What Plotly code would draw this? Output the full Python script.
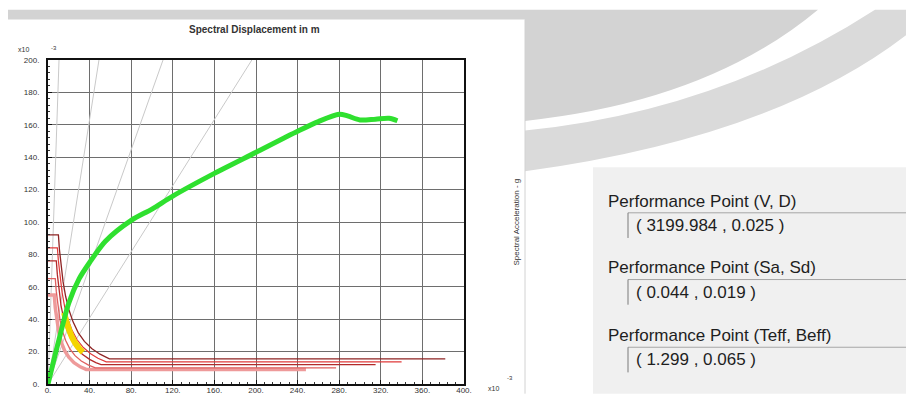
import plotly.graph_objects as go

# ---------------- data (units: x10^-3 m, x10^-3 g) ----------------
capacity_sd = [0, 10, 20, 30, 40, 55, 80, 100, 120, 160, 200, 240, 260, 280, 288, 300, 315, 328, 336]
capacity_sa = [0, 26, 50, 65, 75, 88, 101, 108, 116, 130, 143, 156, 162, 166.5, 165.5, 163, 163.5, 164, 162.5]

demand1_sd = [0, 10, 11, 12.5, 14.5, 17, 20, 24, 29, 35, 42, 50, 59, 382]
demand1_sa = [92, 92, 83, 73, 63, 54, 46, 38.5, 31.7, 26.3, 21.9, 18.4, 15.5, 15.5]
demand2_sd = [0, 9, 10, 11.5, 13.5, 16, 19, 23, 28, 34, 41, 48, 56, 340]
demand2_sa = [84, 84, 76, 66.5, 56.7, 47.8, 40.3, 33.3, 27.3, 22.5, 18.7, 15.9, 13.7, 13.7]
demand3_sd = [0, 8, 9, 10.5, 12.5, 15, 18, 22, 27, 33, 40, 46, 51, 315]
demand3_sa = [76, 76, 67.5, 58, 48.6, 40.5, 33.8, 27.6, 22.5, 18.4, 15.2, 13.2, 12, 12]
demand4_sd = [0, 7, 8, 9.5, 11.5, 14, 17, 21, 26, 32, 39, 45.5, 277]
demand4_sa = [65, 65, 57, 47.9, 39.6, 32.5, 26.8, 21.7, 17.5, 14.2, 11.7, 10, 10]
demand5_sd = [0, 6, 7, 8.5, 10.5, 13, 16, 20, 25, 31, 36.7, 248]
demand5_sa = [55, 55, 47, 38.8, 31.4, 25.4, 20.6, 16.5, 13.2, 10.6, 9, 9]

yellow_sd = [15.5, 17.5, 20, 23, 26.5, 30, 33.5]
yellow_sa = [44, 39, 34, 29, 25, 22, 19.5]

period_top_sd = [10.6, 49, 110.6, 196]   # radial period lines reach Sa = 200 here
period_top_sa = 200

x_ticks = [0, 40, 80, 120, 160, 200, 240, 280, 320, 360, 400]
x_tick_labels = ["0.", "40.", "80.", "120.", "160.", "200.", "240.", "280.", "320.", "360.", "400."]
y_ticks = [0, 20, 40, 60, 80, 100, 120, 140, 160, 180, 200]
y_tick_labels = ["0.", "20.", "40.", "60.", "80.", "100.", "120.", "140.", "160.", "180.", "200."]

panel_labels = ["Performance Point (V, D)", "Performance Point (Sa, Sd)", "Performance Point (Teff, Beff)"]
panel_values = ["( 3199.984 , 0.025 )", "( 0.044 , 0.019 )", "( 1.299 , 0.065 )"]

# ---------------- layout geometry (pixels) ----------------
W, H = 914, 397
L, R, T, B = 40, 456, 52, 387


def PX(px):
    return (px - L) / (R - L)


def PY(py):
    return (B - py) / (B - T)


fig = go.Figure()

for xt in period_top_sd:
    fig.add_trace(go.Scatter(x=[0, xt], y=[0, period_top_sa], mode="lines",
                             line=dict(color="#c9c9c9", width=1), hoverinfo="skip", showlegend=False))

demands = [
    (demand5_sd, demand5_sa, "#ee9a9a", 3.5),
    (demand4_sd, demand4_sa, "#e06060", 1.3),
    (demand3_sd, demand3_sa, "#b42a2a", 1.3),
    (demand2_sd, demand2_sa, "#e03a3a", 1.2),
    (demand1_sd, demand1_sa, "#8e2424", 1.3),
]
for sx, sy, c, w in demands:
    fig.add_trace(go.Scatter(x=sx, y=sy, mode="lines", line=dict(color=c, width=w),
                             hoverinfo="skip", showlegend=False))

fig.add_trace(go.Scatter(x=yellow_sd, y=yellow_sa, mode="lines", line=dict(color="#f4d400", width=6, shape="spline"),
                         hoverinfo="skip", showlegend=False))

fig.add_trace(go.Scatter(x=capacity_sd, y=capacity_sa, mode="lines",
                         line=dict(color="#2fe02f", width=5, shape="spline", smoothing=0.8),
                         hoverinfo="skip", showlegend=False))

axis_font = dict(family="Liberation Sans, Arial, sans-serif", size=8, color="#333")

fig.update_xaxes(range=[0, 400], autorange=False, tickmode="array", tickvals=x_ticks, ticktext=x_tick_labels,
                 showgrid=True, gridcolor="#6e6e6e", gridwidth=1, zeroline=False,
                 showline=True, linecolor="#111", linewidth=2, mirror=True,
                 ticks="inside", ticklen=4, tickcolor="#111", tickfont=axis_font, ticklabelstandoff=-3,
                 minor=dict(ticks="inside", ticklen=2, dtick=8, tick0=0, tickcolor="#333", showgrid=False))
fig.update_yaxes(range=[0, 200], autorange=False, tickmode="array", tickvals=y_ticks, ticktext=y_tick_labels,
                 showgrid=True, gridcolor="#6e6e6e", gridwidth=1, zeroline=False,
                 showline=True, linecolor="#111", linewidth=2, mirror=True,
                 ticks="inside", ticklen=4, tickcolor="#111", tickfont=axis_font, ticklabelstandoff=5,
                 minor=dict(ticks="inside", ticklen=2, dtick=4, tick0=0, tickcolor="#333", showgrid=False))

shapes = []
shapes.append(dict(type="path", xref="paper", yref="paper", layer="below", line=dict(width=0), fillcolor="#d3d3d3",
                   path=f"M {PX(0)},{PY(0)} L {PX(810)},{PY(0)} Q {PX(700)},{PY(95)} {PX(517)},{PY(115)} "
                        f"L {PX(517)},{PY(10)} L {PX(0)},{PY(10)} Z"))
shapes.append(dict(type="path", xref="paper", yref="paper", layer="below", line=dict(width=0), fillcolor="#dadada",
                   path=f"M {PX(867)},{PY(0)} L {PX(914)},{PY(0)} L {PX(914)},{PY(13)} "
                        f"Q {PX(780)},{PY(130)} {PX(517)},{PY(167)} L {PX(517)},{PY(125)} "
                        f"Q {PX(710)},{PY(105)} {PX(867)},{PY(0)} Z"))
shapes.append(dict(type="rect", xref="paper", yref="paper", layer="below", line=dict(width=0), fillcolor="#f0f0f0",
                   x0=PX(585), x1=PX(914), y0=PY(397), y1=PY(163)))
shapes.append(dict(type="line", xref="paper", yref="paper", layer="below", line=dict(color="#d2d2d2", width=1),
                   x0=PX(517), x1=PX(517), y0=PY(10), y1=PY(397)))

annotations = []
panel_font = dict(family="Liberation Sans, Arial, sans-serif", size=17, color="#1e1e1e")
label_y = [198, 267, 337]
value_y = [223, 292, 362]
box_left = 620
for lab, val, ly, vy in zip(panel_labels, panel_values, label_y, value_y):
    annotations.append(dict(text=lab, x=PX(598), y=PY(ly), xref="paper", yref="paper", xanchor="left",
                            yanchor="middle", showarrow=False, font=panel_font))
    annotations.append(dict(text=val, x=PX(box_left + 6), y=PY(vy), xref="paper", yref="paper", xanchor="left",
                            yanchor="middle", showarrow=False, font=panel_font))
    top = vy - 13
    shapes.append(dict(type="line", xref="paper", yref="paper", line=dict(color="#a6a6a6", width=1),
                       x0=PX(box_left), x1=PX(914), y0=PY(top), y1=PY(top)))
    shapes.append(dict(type="line", xref="paper", yref="paper", line=dict(color="#7a7a7a", width=1),
                       x0=PX(box_left), x1=PX(box_left), y0=PY(top), y1=PY(top + 26)))

small = dict(family="Liberation Sans, Arial, sans-serif", size=7, color="#333")
annotations += [
    dict(text="<b>Spectral Displacement in m</b>", x=PX(246), y=PY(20), xref="paper", yref="paper",
         xanchor="center", yanchor="middle", showarrow=False,
         font=dict(family="Liberation Sans, Arial, sans-serif", size=10, color="#333")),
    dict(text="x10", x=PX(15), y=PY(41), xref="paper", yref="paper", xanchor="center", yanchor="middle",
         showarrow=False, font=small),
    dict(text="-3", x=PX(46), y=PY(40), xref="paper", yref="paper", xanchor="center", yanchor="middle",
         showarrow=False, font=dict(family="Liberation Sans, Arial, sans-serif", size=6, color="#333")),
    dict(text="x10", x=PX(485), y=PY(392), xref="paper", yref="paper", xanchor="center", yanchor="middle",
         showarrow=False, font=small),
    dict(text="-3", x=PX(502), y=PY(381), xref="paper", yref="paper", xanchor="center", yanchor="middle",
         showarrow=False, font=dict(family="Liberation Sans, Arial, sans-serif", size=6, color="#333")),
    dict(text="Spectral Acceleration - g", x=PX(508), y=PY(220), xref="paper", yref="paper", showarrow=False,
         xanchor="center", yanchor="middle", textangle=-90,
         font=dict(family="Liberation Sans, Arial, sans-serif", size=8, color="#333")),
]

fig.update_layout(width=W, height=H, margin=dict(l=L, r=W - R, t=T, b=H - B, pad=0),
                  paper_bgcolor="white", plot_bgcolor="white", showlegend=False,
                  shapes=shapes, annotations=annotations)

fig.write_html("out.html")
